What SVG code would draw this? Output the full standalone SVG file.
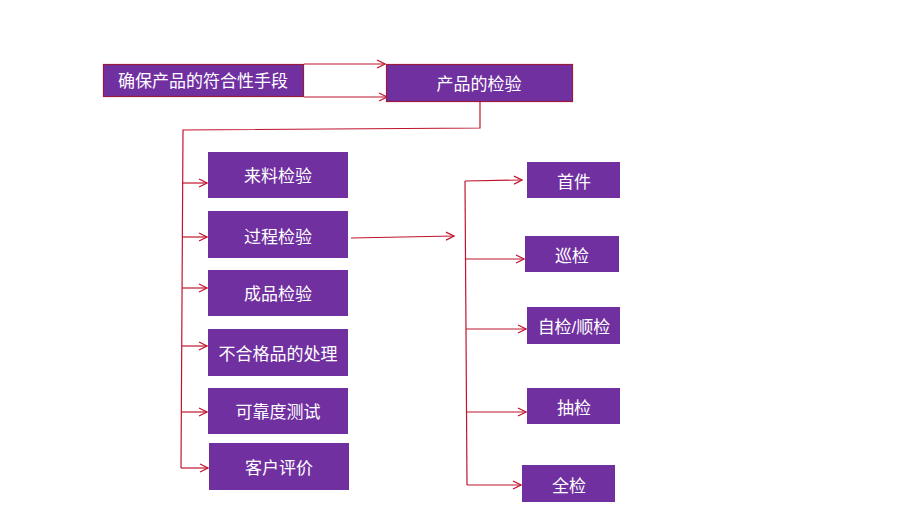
<svg xmlns="http://www.w3.org/2000/svg" width="920" height="517" viewBox="0 0 920 517">
<style>
.b{fill:#7030A0}
.bb{fill:#7030A0;stroke:#9B1B3C;stroke-width:1.2}
.t{fill:#fff;font-family:"Liberation Sans","Noto Sans CJK SC",sans-serif;font-size:17px;text-anchor:middle;dominant-baseline:central}
.c{fill:none;stroke:#C0142E;stroke-width:1.2}
</style>
<defs>
<marker id="a" markerWidth="10" markerHeight="10" refX="9" refY="5" orient="auto" markerUnits="userSpaceOnUse">
<path d="M1,1 L9,5 L1,9" fill="none" stroke="#C0142E" stroke-width="1.2"/>
</marker>
</defs>
<rect width="920" height="517" fill="#fff"/>
<g id="connectors">
<path class="c" d="M304,64 H385" marker-end="url(#a)"/>
<path class="c" d="M304,97 H387" marker-end="url(#a)"/>
<path class="c" d="M480,102 V128 L183,130 L181,468"/>
<path class="c" d="M182,183 H207" marker-end="url(#a)"/>
<path class="c" d="M182,237 H207" marker-end="url(#a)"/>
<path class="c" d="M182,288 H207" marker-end="url(#a)"/>
<path class="c" d="M182,346 H207" marker-end="url(#a)"/>
<path class="c" d="M181,412 H207" marker-end="url(#a)"/>
<path class="c" d="M181,468 H208" marker-end="url(#a)"/>
<path class="c" d="M351,238 L454,236" marker-end="url(#a)"/>
<path class="c" d="M465,181 L467,485"/>
<path class="c" d="M465,181 L522,180" marker-end="url(#a)"/>
<path class="c" d="M465,259 H524" marker-end="url(#a)"/>
<path class="c" d="M466,329 H526" marker-end="url(#a)"/>
<path class="c" d="M466,412 H526" marker-end="url(#a)"/>
<path class="c" d="M467,485 H521" marker-end="url(#a)"/>
</g>
<g id="n1"><rect class="bb" x="103.5" y="64.5" width="200" height="32"/><text class="t" x="203" y="81">确保产品的符合性手段</text></g>
<g id="n2"><rect class="bb" x="386.5" y="64.5" width="186" height="37"/><text class="t" x="479" y="84">产品的检验</text></g>
<g id="n3"><rect class="b" x="208" y="152" width="140" height="46"/><text class="t" x="278" y="176">来料检验</text></g>
<g id="n4"><rect class="b" x="208" y="211" width="140" height="47"/><text class="t" x="278" y="237">过程检验</text></g>
<g id="n5"><rect class="b" x="208" y="270" width="140" height="46"/><text class="t" x="278" y="294">成品检验</text></g>
<g id="n6"><rect class="b" x="208" y="329" width="140" height="47"/><text class="t" x="278" y="354">不合格品的处理</text></g>
<g id="n7"><rect class="b" x="208" y="388" width="140" height="46"/><text class="t" x="278" y="412">可靠度测试</text></g>
<g id="n8"><rect class="b" x="209" y="443" width="140" height="47"/><text class="t" x="279" y="468">客户评价</text></g>
<g id="n9"><rect class="b" x="527" y="162" width="93" height="36"/><text class="t" x="574" y="182">首件</text></g>
<g id="n10"><rect class="b" x="525" y="236" width="94" height="36"/><text class="t" x="572" y="256">巡检</text></g>
<g id="n11"><rect class="b" x="527" y="307" width="93" height="37"/><text class="t" x="574" y="327">自检/顺检</text></g>
<g id="n12"><rect class="b" x="527" y="388" width="93" height="36"/><text class="t" x="574" y="408">抽检</text></g>
<g id="n13"><rect class="b" x="522" y="465" width="93" height="37"/><text class="t" x="569" y="486">全检</text></g>
</svg>
